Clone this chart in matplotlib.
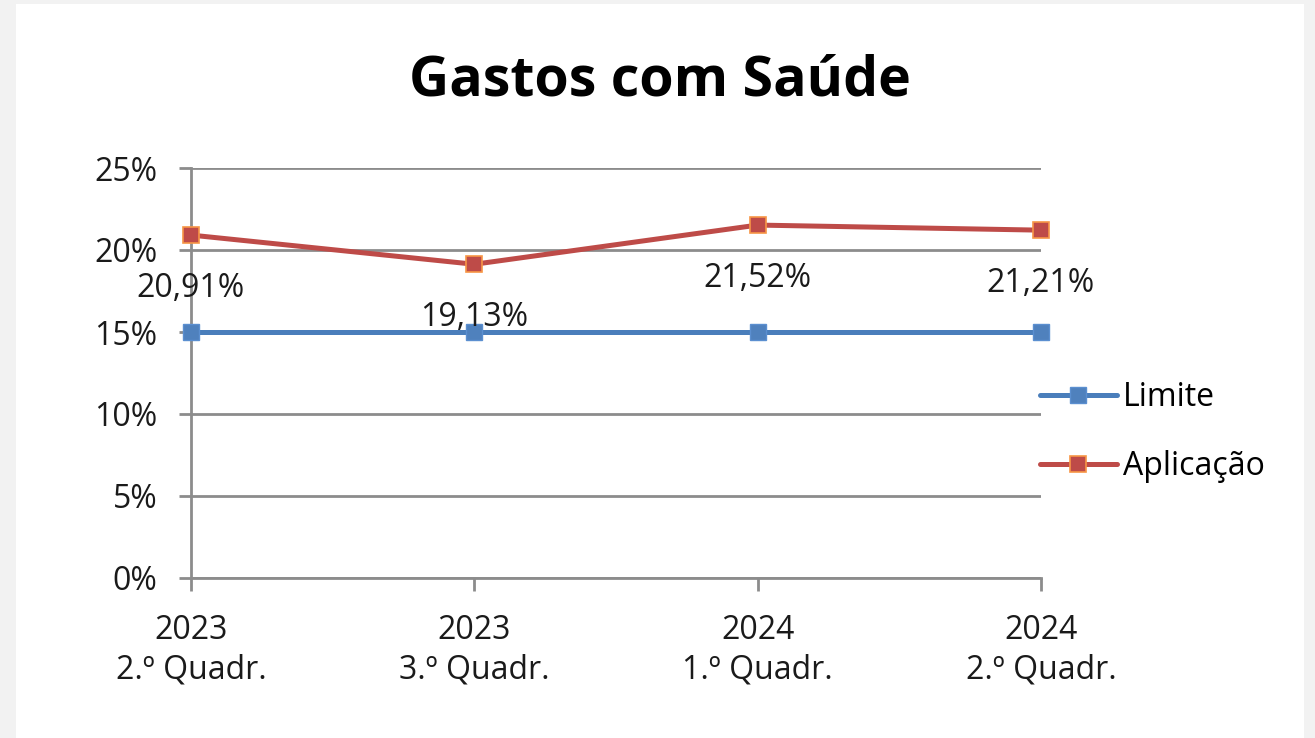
import matplotlib
matplotlib.use('Agg')
import matplotlib.pyplot as plt
from matplotlib.patches import Rectangle

plt.rcParams['font.family'] = ['Open Sans', 'DejaVu Sans']

periods = ['2023\n2.º Quadr.', '2023\n3.º Quadr.', '2024\n1.º Quadr.', '2024\n2.º Quadr.']
limite = [15, 15, 15, 15]
aplicacao = [20.91, 19.13, 21.52, 21.21]
labels_aplic = ['20,91%', '19,13%', '21,52%', '21,21%']
yticks = [0, 5, 10, 15, 20, 25]

W, H = 1315, 738
fig = plt.figure(figsize=(W / 100, H / 100), dpi=100)
fig.patch.set_facecolor('#f2f2f2')
fig.patches.append(Rectangle((16 / W, 0), (1304 - 16) / W, 1 - 4 / H,
                             transform=fig.transFigure, facecolor='white',
                             edgecolor='none', zorder=-5))

ax = fig.add_axes([191 / W, 1 - 578 / H, (1041 - 191) / W, (578 - 168) / H])
ax.set_facecolor('none')
x = range(len(periods))

ax.plot(x, limite, color='#4a7ebb', lw=3.6, marker='s', ms=11,
        mfc='#4f81bd', mec='#5b8fd0', mew=1, label='Limite', zorder=3,
        solid_capstyle='round', clip_on=False)
ax.plot(x, aplicacao, color='#be4b48', lw=3.6, marker='s', ms=11,
        mfc='#be4b48', mec='#f79646', mew=1.2, label='Aplicação', zorder=4,
        solid_capstyle='round', clip_on=False)

for xi, v, t in zip(x, aplicacao, labels_aplic):
    ax.annotate(t, (xi, v), xytext=(0, -53), textcoords='offset pixels',
                ha='center', va='center', fontsize=23, color='#1a1a1a', zorder=5)

ax.set_xlim(0, len(periods) - 1)
ax.set_ylim(0, 25)
ax.set_yticks(yticks)
ax.set_yticklabels([f'{t}%' for t in yticks])
ax.set_xticks(list(x))
ax.set_xticklabels(periods, linespacing=1.25)
ax.yaxis.grid(True, color='#8c8c8c', lw=2)
ax.set_axisbelow(True)
for s in ['top', 'right']:
    ax.spines[s].set_visible(False)
for s in ['left', 'bottom']:
    ax.spines[s].set_color('#8c8c8c')
    ax.spines[s].set_linewidth(2)
ax.tick_params(axis='both', colors='#8c8c8c', width=2, length=9, labelsize=23,
               labelcolor='#1a1a1a')
ax.tick_params(axis='y', pad=15)
ax.tick_params(axis='x', pad=17)

fig.text(660 / W, 1 - 96 / H, 'Gastos com Saúde', ha='center', va='baseline',
         fontsize=40, fontweight='bold', color='black')

leg = ax.legend(loc='center left', bbox_to_anchor=(1040 / W, 1 - 432 / H),
                bbox_transform=fig.transFigure, frameon=False, fontsize=23,
                handlelength=2.4, handletextpad=0.2, labelspacing=1.12,
                borderaxespad=0, borderpad=0)

fig.savefig('out.png', dpi=100, facecolor=fig.get_facecolor())
